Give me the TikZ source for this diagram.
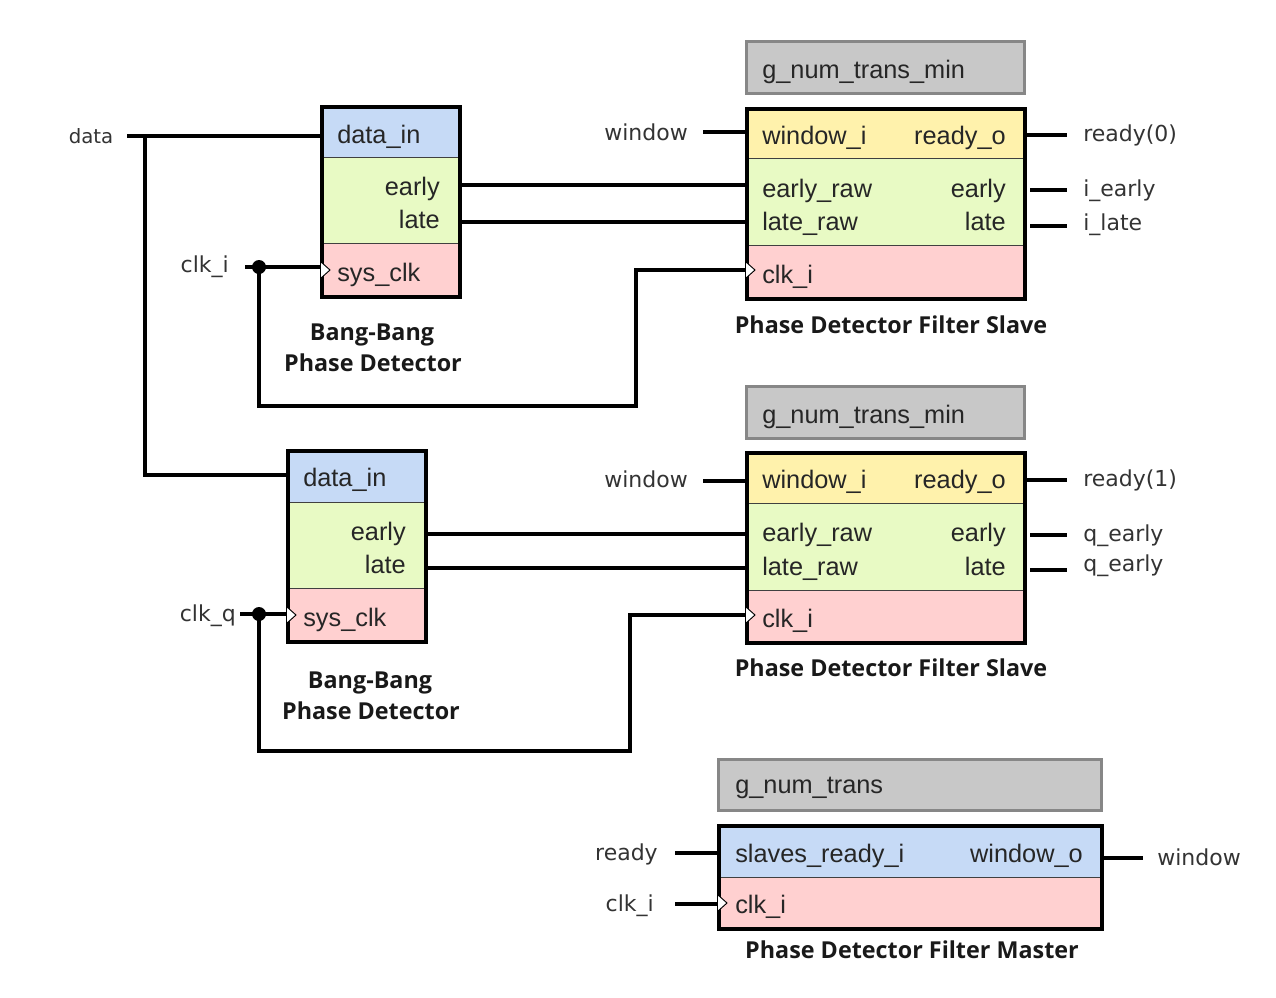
\documentclass[tikz,border=0pt]{standalone}
\usepackage{fontspec}
\setmainfont{Liberation Sans}
\newfontfamily\lblfont{DejaVu Sans}
\newfontfamily\capfont{Open Sans}
\definecolor{cblue}{RGB}{198,218,246}
\definecolor{cgreen}{RGB}{232,250,196}
\definecolor{cred}{RGB}{255,208,208}
\definecolor{cyel}{RGB}{255,242,172}
\definecolor{cgray}{RGB}{200,200,200}
\definecolor{cgrayb}{RGB}{135,135,135}
\begin{document}
\begin{tikzpicture}[x=0.75pt,y=-0.75pt,
  sz/.style 2 args={minimum width=#1*0.75pt,minimum height=#2*0.75pt},
  sec/.style={draw=black!75,line width=0.9pt,inner sep=0pt,anchor=north west,rectangle},
  frame/.style={draw=black,line width=3.2pt,inner sep=0pt,anchor=north west,rectangle},
  param/.style={draw=cgrayb,line width=2.6pt,fill=cgray,inner sep=0pt,anchor=north west,rectangle},
  ptxt/.style={font=\fontsize{19}{22}\selectfont,inner sep=0pt,text=black!85},
  lbl/.style={font=\lblfont\fontsize{16.5}{20}\selectfont,inner sep=0pt,text=black!80},
  captxt/.style={font=\capfont\bfseries\fontsize{17.5}{20}\selectfont,inner sep=0pt,text=black!90,anchor=base},
  wire/.style={line width=3pt},
  clk/.style={line width=0.7pt,fill=white},
  jdot/.style={circle,fill=black,inner sep=0pt,minimum size=10.5pt}]
\useasboundingbox (0,0) rectangle (1276,997);

% ---------- Bang-Bang 1 ----------
\node[sec,fill=cblue,sz={138}{52}] (bb1a) at (320,105) {};
\node[sec,fill=cgreen,sz={138}{86}] (bb1b) at (320,157) {};
\node[sec,fill=cred,sz={138}{52}] (bb1c) at (320,243) {};
\node[frame,sz={138}{190}] (bb1) at (320,105) {};
\node[ptxt,anchor=base west] (bb1t1) at (337,143) {data\_in};
\node[ptxt,anchor=base east] (bb1t2) at (440,195) {early};
\node[ptxt,anchor=base east] (bb1t3) at (440,228) {late};
\node[ptxt,anchor=base west] (bb1t4) at (337,281) {sys\_clk};
\draw[clk] (321,262) -- (330,270) -- (321,278);
\node[captxt] (bb1cap1) at (372,340) {Bang-Bang};
\node[captxt] (bb1cap2) at (373,371) {Phase Detector};

% ---------- Bang-Bang 2 ----------
\node[sec,fill=cblue,sz={138}{53}] (bb2a) at (286,449) {};
\node[sec,fill=cgreen,sz={138}{86}] (bb2b) at (286,502) {};
\node[sec,fill=cred,sz={138}{52}] (bb2c) at (286,588) {};
\node[frame,sz={138}{191}] (bb2) at (286,449) {};
\node[ptxt,anchor=base west] (bb2t1) at (303,486) {data\_in};
\node[ptxt,anchor=base east] (bb2t2) at (406,540) {early};
\node[ptxt,anchor=base east] (bb2t3) at (406,573) {late};
\node[ptxt,anchor=base west] (bb2t4) at (303,626) {sys\_clk};
\draw[clk] (287,607) -- (296,615) -- (287,623);
\node[captxt] (bb2cap1) at (370,688) {Bang-Bang};
\node[captxt] (bb2cap2) at (371,719) {Phase Detector};

% ---------- Filter slave 1 ----------
\node[param,sz={278}{52}] (p1) at (745,40) {};
\node[ptxt,anchor=base west] (p1t) at (762,78) {g\_num\_trans\_min};
\node[sec,fill=cyel,sz={278}{51}] (s1a) at (745,107) {};
\node[sec,fill=cgreen,sz={278}{87}] (s1b) at (745,158) {};
\node[sec,fill=cred,sz={278}{52}] (s1c) at (745,245) {};
\node[frame,sz={278}{190}] (s1) at (745,107) {};
\node[ptxt,anchor=base west] (s1t1) at (762,144) {window\_i};
\node[ptxt,anchor=base east] (s1t2) at (1006,144) {ready\_o};
\node[ptxt,anchor=base west] (s1t3) at (762,197) {early\_raw};
\node[ptxt,anchor=base east] (s1t4) at (1006,197) {early};
\node[ptxt,anchor=base west] (s1t5) at (762,230) {late\_raw};
\node[ptxt,anchor=base east] (s1t6) at (1006,230) {late};
\node[ptxt,anchor=base west] (s1t7) at (762,283) {clk\_i};
\draw[clk] (746,262) -- (755,270) -- (746,278);
\node[captxt] (s1cap) at (891,333) {Phase Detector Filter Slave};

% ---------- Filter slave 2 ----------
\node[param,sz={278}{52}] (p2) at (745,385) {};
\node[ptxt,anchor=base west] (p2t) at (762,423) {g\_num\_trans\_min};
\node[sec,fill=cyel,sz={278}{52}] (s2a) at (745,451) {};
\node[sec,fill=cgreen,sz={278}{87}] (s2b) at (745,503) {};
\node[sec,fill=cred,sz={278}{51}] (s2c) at (745,590) {};
\node[frame,sz={278}{190}] (s2) at (745,451) {};
\node[ptxt,anchor=base west] (s2t1) at (762,488) {window\_i};
\node[ptxt,anchor=base east] (s2t2) at (1006,488) {ready\_o};
\node[ptxt,anchor=base west] (s2t3) at (762,541) {early\_raw};
\node[ptxt,anchor=base east] (s2t4) at (1006,541) {early};
\node[ptxt,anchor=base west] (s2t5) at (762,575) {late\_raw};
\node[ptxt,anchor=base east] (s2t6) at (1006,575) {late};
\node[ptxt,anchor=base west] (s2t7) at (762,627) {clk\_i};
\draw[clk] (746,607) -- (755,615) -- (746,623);
\node[captxt] (s2cap) at (891,676) {Phase Detector Filter Slave};

% ---------- Filter master ----------
\node[param,sz={383}{51}] (pm) at (717,758) {};
\node[ptxt,anchor=base west] (pmt) at (735,793) {g\_num\_trans};
\node[sec,fill=cblue,sz={383}{53}] (ma) at (717,824) {};
\node[sec,fill=cred,sz={383}{50}] (mb) at (717,877) {};
\node[frame,sz={383}{103}] (m) at (717,824) {};
\node[ptxt,anchor=base west] (mt1) at (735,862) {slaves\_ready\_i};
\node[ptxt,anchor=base east] (mt2) at (1083,862) {window\_o};
\node[ptxt,anchor=base west] (mt3) at (735,913) {clk\_i};
\draw[clk] (718,895) -- (727,903) -- (718,911);
\node[captxt] (mcap) at (912,958) {Phase Detector Filter Master};

% ---------- outside labels ----------
\node[lbl,anchor=base,font=\lblfont\fontsize{14.8}{18}\selectfont] (ldata) at (91,143) {data};
\node[lbl,anchor=base east] (lclki) at (229,272) {clk\_i};
\node[lbl,anchor=base east] (lclkq) at (236,621) {clk\_q};
\node[lbl,anchor=base east] (lw1) at (688,140) {window};
\node[lbl,anchor=base east] (lw2) at (688,487) {window};
\node[lbl,anchor=base west] (lr0) at (1083,141) {ready(0)};
\node[lbl,anchor=base west] (lie) at (1083,196) {i\_early};
\node[lbl,anchor=base west] (lil) at (1083,230) {i\_late};
\node[lbl,anchor=base west] (lr1) at (1083,486) {ready(1)};
\node[lbl,anchor=base west] (lqe) at (1083,541) {q\_early};
\node[lbl,anchor=base west] (lql) at (1083,571) {q\_early};
\node[lbl,anchor=base east] (lrdy) at (658,860) {ready};
\node[lbl,anchor=base east] (lmclk) at (654,911) {clk\_i};
\node[lbl,anchor=base west] (lmw) at (1157,865) {window};

% ---------- pins ----------
\coordinate (dA) at (127,136);  \coordinate (dJ) at (145,136);
\coordinate (dB) at (320,136);  \coordinate (dC) at (145,475); \coordinate (dD) at (286,475);
\coordinate (c1A) at (245,267); \coordinate (c1B) at (320,267);
\coordinate (c1C) at (259,406); \coordinate (c1D) at (636,406); \coordinate (c1E) at (636,270); \coordinate (c1F) at (745,270);
\coordinate (c2A) at (240,614); \coordinate (c2B) at (286,614);
\coordinate (c2C) at (259,751); \coordinate (c2D) at (630,751); \coordinate (c2E) at (630,615); \coordinate (c2F) at (745,615);
\coordinate (e1a) at (458,185); \coordinate (e1b) at (745,185);
\coordinate (l1a) at (458,222); \coordinate (l1b) at (745,222);
\coordinate (e2a) at (424,534); \coordinate (e2b) at (745,534);
\coordinate (l2a) at (424,568); \coordinate (l2b) at (745,568);
\coordinate (w1a) at (703,132); \coordinate (w1b) at (745,132);
\coordinate (w2a) at (703,481); \coordinate (w2b) at (745,481);
\coordinate (r0a) at (1023,135); \coordinate (r0b) at (1067,135);
\coordinate (iea) at (1030,190); \coordinate (ieb) at (1067,190);
\coordinate (ila) at (1030,226); \coordinate (ilb) at (1067,226);
\coordinate (r1a) at (1023,480); \coordinate (r1b) at (1067,480);
\coordinate (qea) at (1030,535); \coordinate (qeb) at (1067,535);
\coordinate (qla) at (1030,570); \coordinate (qlb) at (1067,570);
\coordinate (mra) at (675,853); \coordinate (mrb) at (717,853);
\coordinate (mca) at (675,904); \coordinate (mcb) at (717,904);
\coordinate (mwa) at (1100,858); \coordinate (mwb) at (1143,858);
\node[jdot] (j1) at (259,267) {};
\node[jdot] (j2) at (259,614) {};

% ---------- wires ----------
\draw[wire] (dA) -- (dB);
\draw[wire] (dJ) -- (dC) -- (dD);
\draw[wire] (c1A) -- (c1B);
\draw[wire] (j1.center) -- (c1C) -- (c1D) -- (c1E) -- (c1F);
\draw[wire] (c2A) -- (c2B);
\draw[wire] (j2.center) -- (c2C) -- (c2D) -- (c2E) -- (c2F);
\draw[wire] (e1a) -- (e1b);
\draw[wire] (l1a) -- (l1b);
\draw[wire] (e2a) -- (e2b);
\draw[wire] (l2a) -- (l2b);
\draw[wire] (w1a) -- (w1b);
\draw[wire] (w2a) -- (w2b);
\draw[wire] (r0a) -- (r0b);
\draw[wire] (iea) -- (ieb);
\draw[wire] (ila) -- (ilb);
\draw[wire] (r1a) -- (r1b);
\draw[wire] (qea) -- (qeb);
\draw[wire] (qla) -- (qlb);
\draw[wire] (mra) -- (mrb);
\draw[wire] (mca) -- (mcb);
\draw[wire] (mwa) -- (mwb);
\end{tikzpicture}
\end{document}
